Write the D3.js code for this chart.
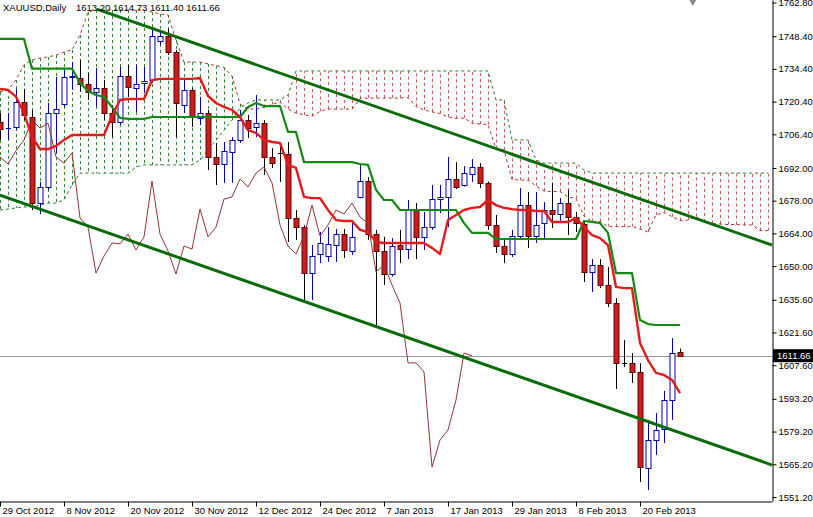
<!DOCTYPE html>
<html><head><meta charset="utf-8">
<script src="https://cdn.jsdelivr.net/npm/d3@7"></script>
<style>
html,body{margin:0;padding:0;background:#fff;overflow:hidden}
svg{display:block;font-family:"Liberation Sans",Arial,sans-serif}
</style>
</head><body>
<svg id="c" width="813" height="517"></svg>
<script>
// ---------------- DATA ----------------
const symbolTitle = "XAUUSD,Daily";
const lastOHLC = [1613.20, 1614.73, 1611.40, 1611.66];

const barDates = [
 "2012-10-29","2012-10-30","2012-10-31","2012-11-01","2012-11-02","2012-11-05","2012-11-06","2012-11-07","2012-11-08","2012-11-09",
 "2012-11-12","2012-11-13","2012-11-14","2012-11-15","2012-11-16","2012-11-19","2012-11-20","2012-11-21","2012-11-22","2012-11-23",
 "2012-11-26","2012-11-27","2012-11-28","2012-11-29","2012-11-30","2012-12-03","2012-12-04","2012-12-05","2012-12-06","2012-12-07",
 "2012-12-10","2012-12-11","2012-12-12","2012-12-13","2012-12-14","2012-12-17","2012-12-18","2012-12-19","2012-12-20","2012-12-21",
 "2012-12-24","2012-12-26","2012-12-27","2012-12-28","2012-12-31","2013-01-02","2013-01-03","2013-01-04","2013-01-07","2013-01-08",
 "2013-01-09","2013-01-10","2013-01-11","2013-01-14","2013-01-15","2013-01-16","2013-01-17","2013-01-18","2013-01-21","2013-01-22",
 "2013-01-23","2013-01-24","2013-01-25","2013-01-28","2013-01-29","2013-01-30","2013-01-31","2013-02-01","2013-02-04","2013-02-05",
 "2013-02-06","2013-02-07","2013-02-08","2013-02-11","2013-02-12","2013-02-13","2013-02-14","2013-02-15","2013-02-18","2013-02-19",
 "2013-02-20","2013-02-21","2013-02-22","2013-02-25","2013-02-26","2013-02-27"];

const barOpen = [1711.7,1709.0,1709.5,1720.2,1713.8,1677.0,1683.9,1715.5,1719.4,1730.9,
 1730.5,1727.9,1724.5,1726.2,1715.5,1711.7,1731.3,1726.2,1728.3,1729.6,
 1746.3,1748.5,1741.6,1718.9,1725.4,1713.4,1715.5,1696.7,1693.7,1698.8,
 1704.0,1712.5,1709.5,1711.2,1696.7,1698.5,1698.0,1670.6,1666.7,1647.0,
 1655.2,1654.3,1659.0,1663.7,1656.5,1679.6,1686.4,1663.7,1656.5,1646.6,
 1659.0,1657.3,1674.4,1662.5,1666.7,1678.7,1679.6,1687.3,1684.7,1689.4,
 1692.4,1685.6,1667.6,1658.6,1655.2,1662.9,1676.1,1662.9,1668.4,1674.0,
 1672.3,1677.0,1671.0,1668.0,1647.5,1650.5,1641.9,1634.2,1608.6,1608.5,
 1604.7,1563.6,1575.6,1580.3,1592.7,1613.20];
const barHigh = [1715.5,1715.5,1725.8,1725.8,1716.8,1686.0,1719.8,1730.9,1734.8,1737.3,
 1738.2,1732.6,1734.8,1729.6,1718.9,1735.2,1736.1,1736.1,1735.2,1752.3,
 1750.6,1751.5,1742.5,1729.6,1726.2,1722.4,1716.8,1702.7,1703.1,1705.2,
 1716.8,1714.7,1723.2,1712.5,1700.5,1703.1,1703.1,1674.0,1667.5,1659.0,
 1664.6,1666.7,1665.9,1665.9,1669.7,1693.3,1688.1,1665.5,1662.5,1662.0,
 1665.5,1678.3,1677.0,1673.2,1684.7,1684.7,1696.7,1694.5,1692.8,1695.8,
 1694.1,1686.2,1671.9,1662.0,1665.5,1683.4,1681.7,1681.7,1677.4,1685.6,
 1679.1,1682.6,1673.2,1668.9,1653.0,1653.0,1649.6,1636.3,1618.4,1612.8,
 1608.5,1584.2,1587.1,1596.6,1619.2,1614.73];
const barLow = [1704.0,1704.0,1708.2,1712.5,1674.0,1672.3,1682.6,1698.4,1718.1,1725.4,
 1724.5,1721.1,1718.1,1712.5,1705.2,1710.4,1722.4,1716.0,1724.1,1728.3,
 1744.6,1740.3,1705.2,1715.5,1709.5,1710.4,1691.1,1684.7,1685.6,1685.6,
 1702.7,1704.8,1705.2,1689.0,1692.0,1686.0,1660.3,1661.2,1635.5,1635.5,
 1651.3,1651.8,1651.8,1653.5,1654.8,1679.0,1661.2,1624.8,1641.9,1645.5,
 1651.3,1653.0,1653.0,1656.9,1665.5,1672.7,1666.7,1683.0,1684.0,1686.0,
 1683.4,1665.5,1655.6,1651.3,1653.9,1661.2,1657.8,1659.9,1662.0,1666.3,
 1668.4,1663.3,1664.6,1643.2,1638.9,1640.6,1632.5,1597.4,1606.8,1600.0,
 1557.6,1554.2,1569.2,1574.3,1584.2,1611.40];
const barClose = [1708.7,1709.3,1720.2,1714.7,1677.0,1683.9,1715.5,1717.2,1730.9,1731.3,
 1727.9,1724.5,1726.2,1715.5,1711.7,1731.3,1726.6,1727.9,1729.2,1748.5,
 1748.5,1741.6,1719.8,1725.4,1713.8,1715.5,1696.7,1693.7,1699.3,1704.0,
 1712.5,1709.1,1711.2,1696.7,1694.1,1698.5,1670.6,1666.7,1647.0,1654.3,
 1659.9,1659.5,1663.7,1656.9,1662.5,1686.4,1663.7,1656.5,1646.6,1658.6,
 1657.3,1674.4,1662.5,1666.7,1678.7,1679.6,1687.3,1683.9,1689.8,1692.4,
 1685.6,1667.6,1658.6,1655.2,1662.9,1676.1,1662.9,1667.6,1674.0,1672.3,
 1677.0,1671.0,1668.4,1647.5,1650.5,1641.9,1634.2,1608.6,1608.6,1604.7,
 1564.0,1575.6,1579.9,1592.7,1612.8,1611.66];

// Ichimoku lines
const tenkanSen = [1725.8,1725.4,1722.5,1715.5,1705.2,1700.1,1700.1,1701.4,1704.0,1706.1,
 1706.1,1706.1,1706.1,1706.1,1714.2,1721.1,1721.5,1721.5,1721.5,1729.6,
 1730.1,1730.1,1730.1,1730.1,1730.1,1730.5,1722.8,1719.8,1718.1,1716.8,
 1713.8,1708.2,1707.0,1704.0,1703.1,1702.7,1693.3,1692.0,1679.6,1679.1,
 1679.1,1674.0,1669.7,1669.3,1669.3,1665.5,1664.6,1660.3,1659.9,1659.9,
 1659.9,1659.9,1659.9,1659.9,1657.8,1655.2,1669.7,1671.9,1674.0,1674.9,
 1675.3,1678.3,1676.1,1674.9,1674.4,1674.0,1674.0,1673.6,1673.6,1668.9,
 1668.9,1668.9,1670.6,1666.7,1663.3,1662.0,1659.0,1641.1,1640.6,1640.6,
 1617.1,1609.8,1604.3,1603.4,1601.3,1595.7];
const kijunSen = [1747.2,1747.2,1747.2,1747.2,1734.5,1734.5,1734.5,1734.5,1734.5,1734.5,
 1728.4,1724.9,1723.2,1722.4,1718.1,1713.4,1713.0,1713.0,1713.0,1713.8,
 1713.8,1713.8,1713.8,1713.8,1713.8,1713.8,1713.8,1713.8,1713.8,1713.8,
 1713.8,1718.1,1719.8,1718.5,1718.5,1718.5,1707.4,1707.4,1694.5,1694.5,
 1694.5,1694.5,1694.5,1694.5,1694.5,1693.7,1693.3,1682.6,1678.3,1678.3,
 1674.0,1674.0,1674.0,1674.0,1674.0,1674.0,1674.0,1674.0,1668.4,1664.2,
 1664.2,1664.2,1661.6,1661.6,1661.6,1661.6,1661.6,1661.6,1661.6,1661.6,
 1661.6,1661.6,1661.6,1669.3,1668.9,1668.4,1664.2,1647.0,1647.0,1647.0,
 1626.9,1625.2,1624.8,1624.8,1624.8,1624.8];
const chikouSpan = [1696.7,1693.7,1699.3,1704.0,1712.5,1709.1,1711.2,1696.7,1694.1,1698.5,
 1670.6,1666.7,1647.0,1654.3,1659.9,1659.5,1663.7,1656.9,1662.5,1686.4,
 1663.7,1656.5,1646.6,1658.6,1657.3,1674.4,1662.5,1666.7,1678.7,1679.6,
 1687.3,1683.9,1689.8,1692.4,1685.6,1667.6,1658.6,1655.2,1662.9,1676.1,
 1662.9,1667.6,1674.0,1672.3,1677.0,1671.0,1668.4,1647.5,1650.5,1641.9,
 1634.2,1608.6,1608.6,1604.7,1564.0,1575.6,1579.9,1592.7,1612.8,1611.66];
const senkouSpanA = [1724.5,1725.4,1729.6,1736.1,1738.2,1739.0,1739.5,1740.3,1741.6,1742.5,
 1748.9,1758.7,1759.6,1759.6,1759.6,1759.6,1759.6,1759.6,1759.6,1758.7,
 1757.9,1757.5,1746.8,1737.3,1737.3,1737.3,1736.5,1735.8,1735.0,1731.3,
 1719.4,1717.2,1717.2,1717.9,1719.2,1720.2,1717.2,1715.5,1714.7,1714.2,
 1716.2,1717.2,1717.2,1717.2,1717.2,1721.7,1721.9,1721.9,1721.9,1721.9,
 1721.9,1722.1,1718.3,1716.8,1716.0,1715.3,1713.8,1713.2,1713.4,1711.2,
 1710.8,1710.6,1700.3,1699.7,1687.1,1686.8,1686.8,1684.3,1682.1,1681.9,
 1681.9,1679.6,1678.9,1671.4,1669.1,1669.1,1666.9,1666.9,1666.9,1666.9,
 1665.9,1664.6,1671.9,1672.9,1671.2,1669.5,1669.7,1671.2,1668.9,1668.2,
 1668.0,1667.8,1667.8,1667.6,1667.6,1665.2,1665.2];
const senkouSpanB = [1674.0,1674.4,1674.9,1675.3,1675.3,1676.1,1677.0,1677.0,1678.3,1684.7,
 1689.8,1689.8,1689.8,1689.8,1689.8,1689.8,1689.8,1692.4,1693.3,1693.3,
 1693.3,1693.3,1693.3,1693.3,1693.3,1695.4,1699.7,1704.0,1708.2,1712.5,
 1717.7,1719.8,1721.1,1721.1,1721.1,1721.1,1723.2,1733.5,1733.5,1733.5,
 1733.5,1733.5,1733.5,1733.5,1733.5,1733.5,1733.5,1733.5,1733.5,1733.5,
 1733.5,1733.5,1733.5,1733.5,1733.5,1733.5,1733.5,1733.5,1733.5,1733.5,
 1733.5,1733.5,1721.1,1721.1,1704.0,1704.0,1704.0,1695.4,1694.1,1694.1,
 1694.1,1694.1,1694.1,1691.1,1689.8,1689.8,1689.8,1689.8,1689.8,1689.8,
 1689.8,1689.8,1689.8,1689.8,1689.8,1689.8,1689.8,1689.8,1689.8,1689.8,
 1689.8,1689.8,1689.8,1689.8,1689.8,1689.8,1689.8];

// channel trend lines: [bar index, price]
const trendUpper = [[12.1, 1760.0], [96.5, 1659.0]];
const trendLower = [[0, 1680.4], [96.5, 1564.9]];

const priceTicks = [1762.80,1748.40,1734.40,1720.40,1706.40,1692.00,1678.00,1664.00,1650.00,1635.60,1621.60,1607.60,1593.20,1579.20,1565.20,1551.20];
const dateTickBars = [0,8,16,24,32,40,48,56,64,72,80];

// ---------------- DRAW ----------------
const W = 813, H = 517, PW = 772, PH = 501;
const svg = d3.select("#c");
const xs = d3.scaleLinear().domain([0, 96.5]).range([0, PW]);
const ys = d3.scaleLinear().domain([1549.49, 1763.87]).range([PH, 0]);
const parse = d3.timeParse("%Y-%m-%d"), fmt = d3.timeFormat("%-d %b %Y");

svg.append("rect").attr("width", W).attr("height", H).attr("fill", "#fff");
svg.append("defs").append("clipPath").attr("id", "clip")
  .append("rect").attr("x", 0).attr("y", 0).attr("width", PW).attr("height", PH);
const g = svg.append("g").attr("clip-path", "url(#clip)");

// current price line
const lastClose = barClose[barClose.length - 1];
g.append("line").attr("x1", 0).attr("x2", PW)
  .attr("y1", Math.round(ys(lastClose)) + 0.5).attr("y2", Math.round(ys(lastClose)) + 0.5)
  .attr("stroke", "#9a9a9a").attr("stroke-width", 1);

// cloud hatch
const idx = d3.range(senkouSpanA.length);
g.append("g").selectAll("line").data(idx).join("line")
  .attr("x1", i => Math.round(xs(i)) + 0.5).attr("x2", i => Math.round(xs(i)) + 0.5)
  .attr("y1", i => ys(senkouSpanA[i])).attr("y2", i => ys(senkouSpanB[i]))
  .attr("stroke", i => senkouSpanA[i] >= senkouSpanB[i] ? "#2a8a2a" : "#cf5a5a")
  .attr("stroke-width", 1).attr("stroke-dasharray", "3,3");

const lineOf = arr => d3.line().x((d, i) => xs(i)).y(d => ys(d))(arr);
g.append("path").attr("d", lineOf(senkouSpanA)).attr("fill", "none")
  .attr("stroke", "#b03030").attr("stroke-width", 1).attr("stroke-dasharray", "3,3");
g.append("path").attr("d", lineOf(senkouSpanB)).attr("fill", "none")
  .attr("stroke", "#2a7a2a").attr("stroke-width", 1).attr("stroke-dasharray", "3,3");

// candles
const bars = d3.range(barOpen.length);
const cg = g.append("g");
bars.forEach(i => {
  const o = barOpen[i], c = barClose[i], hi = barHigh[i], lo = barLow[i];
  const bull = c > o;
  const xc = Math.round(xs(i)) + 0.5;
  const wickCol = bull ? "#0000b4" : "#000000";
  cg.append("line").attr("x1", xc).attr("x2", xc)
    .attr("y1", ys(hi)).attr("y2", ys(lo)).attr("stroke", wickCol).attr("stroke-width", 1);
  const top = Math.round(ys(Math.max(o, c))), bot = Math.round(ys(Math.min(o, c)));
  if (bot - top < 1) {
    cg.append("line").attr("x1", xc - 2.5).attr("x2", xc + 2.5)
      .attr("y1", top + 0.5).attr("y2", top + 0.5)
      .attr("stroke", bull ? "#0000b4" : "#000").attr("stroke-width", 1);
  } else {
    cg.append("rect").attr("x", xc - 2.5).attr("y", top + 0.5)
      .attr("width", 5).attr("height", bot - top)
      .attr("fill", bull ? "#ffffff" : "#d21a1a")
      .attr("stroke", bull ? "#0000b4" : "#5a0a0a").attr("stroke-width", 1);
  }
});

// chikou, kijun, tenkan
g.append("path").attr("d", lineOf(chikouSpan)).attr("fill", "none")
  .attr("stroke", "#953535").attr("stroke-width", 1);
g.append("path").attr("d", lineOf(kijunSen)).attr("fill", "none")
  .attr("stroke", "#138a13").attr("stroke-width", 2.2).attr("stroke-linejoin", "round");
g.append("path").attr("d", lineOf(tenkanSen)).attr("fill", "none")
  .attr("stroke", "#e31b1b").attr("stroke-width", 2.4).attr("stroke-linejoin", "round");

// trend lines
[trendUpper, trendLower].forEach(t => {
  g.append("line").attr("x1", xs(t[0][0])).attr("y1", ys(t[0][1]))
    .attr("x2", xs(t[1][0])).attr("y2", ys(t[1][1]))
    .attr("stroke", "#0b6b0b").attr("stroke-width", 3);
});

// chart shift marker
svg.append("path").attr("d", d3.symbol(d3.symbolDiamond, 40)())
  .attr("transform", `translate(${xs(86.6)},0)`).attr("fill", "#8a8a8a");

// axes
const yAxis = d3.axisRight(ys).tickValues(priceTicks).tickSize(4).tickSizeOuter(0).tickPadding(2)
  .tickFormat(d => d.toFixed(2));
const ya = svg.append("g").attr("transform", `translate(${PW + 0.5},0)`).call(yAxis);
ya.select(".domain").attr("stroke", "#000");
ya.selectAll("text").attr("font-size", 9.5).attr("font-family", "Liberation Sans, Arial, sans-serif").attr("fill", "#000");

const xAxis = d3.axisBottom(xs).tickValues(dateTickBars).tickSize(5).tickSizeOuter(0)
  .tickFormat(i => fmt(parse(barDates[i])));
const xa = svg.append("g").attr("transform", `translate(0,${PH + 0.5})`).call(xAxis);
xa.select(".domain").attr("stroke", "#000");
xa.selectAll("text").attr("font-size", 9.5).attr("font-family", "Liberation Sans, Arial, sans-serif")
  .attr("fill", "#000").attr("text-anchor", "start").attr("x", 2).attr("y", 12).attr("dy", 0);

// last price label
const ly = ys(lastClose);
svg.append("rect").attr("x", PW + 1).attr("y", ly - 6.5).attr("width", 41).attr("height", 13).attr("fill", "#000");
svg.append("text").attr("x", PW + 5).attr("y", ly + 3.5).attr("fill", "#fff")
  .attr("font-size", 9.5).text(lastClose.toFixed(2));

// header
svg.append("text").attr("x", 3).attr("y", 10.5).attr("font-size", 9.5).attr("fill", "#000")
  .text(symbolTitle);
svg.append("text").attr("x", 76).attr("y", 10.5).attr("font-size", 9.5).attr("fill", "#000")
  .text(lastOHLC.map(v => v.toFixed(2)).join(" "));
</script>
</body></html>
